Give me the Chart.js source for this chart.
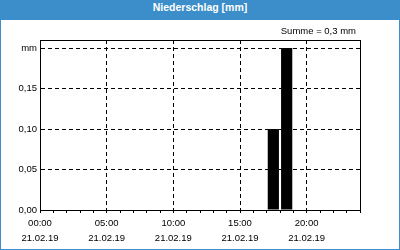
<!DOCTYPE html>
<html>
<head>
<meta charset="utf-8">
<script src="https://cdn.jsdelivr.net/npm/chart.js@4"></script>
<style>
  html, body { margin: 0; padding: 0; background: #fff; }
  .panel {
    position: relative;
    width: 400px;
    height: 250px;
    box-sizing: border-box;
    border: 1px solid #3b8ec9;
    background: #fff;
    overflow: hidden;
  }
  .panel-head {
    height: 19px;
    line-height: 19px;
    background: #3b8ec9;
    color: #fff;
    text-align: center;
    font: bold 10.5px "Liberation Sans", Arial, sans-serif;
  }
  canvas { display: block; }
</style>
</head>
<body>
<div class="panel">
  <div class="panel-head">Niederschlag [mm]</div>
  <canvas id="rainChart" width="398" height="229"></canvas>
</div>
<script>
// hour slots (centre of each hourly bar) and rainfall per hour in mm
const barHours = [17.5, 18.5];
const rainValues = [0.1, 0.2];

const timeLabels = { 0: '00:00', 5: '05:00', 10: '10:00', 15: '15:00', 20: '20:00' };
const dateLabel = '21.02.19';
const sumLabel = 'Summe = 0,3 mm';
const unitLabel = 'mm';

const fontFamily = '"Liberation Sans", Arial, sans-serif';

const framePlugin = {
  id: 'frame',
  afterDraw(chart) {
    const { ctx, chartArea } = chart;
    ctx.save();
    ctx.strokeStyle = '#000';
    ctx.lineWidth = 1;
    ctx.setLineDash([]);
    ctx.strokeRect(chartArea.left + 0.5, chartArea.top + 0.5,
      chartArea.right - chartArea.left, chartArea.bottom - chartArea.top);
    ctx.fillStyle = '#000';
    ctx.font = '9.5px ' + fontFamily;
    ctx.textAlign = 'right';
    ctx.textBaseline = 'middle';
    ctx.fillText(sumLabel, chartArea.right - 4, chartArea.top - 9);
    ctx.restore();
  }
};

const ctx = document.getElementById('rainChart').getContext('2d');

new Chart(ctx, {
  type: 'bar',
  data: {
    datasets: [{
      data: barHours.map((h, i) => ({ x: h, y: rainValues[i] })),
      backgroundColor: '#000',
      borderWidth: 0,
      barPercentage: 0.84,
      categoryPercentage: 1
    }]
  },
  options: {
    responsive: false,
    animation: false,
    layout: { padding: { top: 20, right: 39, left: 0, bottom: 0 } },
    plugins: {
      legend: { display: false },
      tooltip: { enabled: false }
    },
    scales: {
      x: {
        type: 'linear',
        min: 0,
        max: 24,
        offset: false,
        afterFit(scale) { scale.height = 39; },
        grid: {
          offset: false,
          color: c => (c.tick && c.tick.value % 5 === 0 && c.tick.value > 0 && c.tick.value < 24) ? '#000' : 'rgba(0,0,0,0)',
          tickColor: '#000',
          tickLength: 3,
          tickBorderDash: []
        },
        border: { display: true, color: '#000', dash: [4, 3] },
        ticks: {
          stepSize: 1,
          autoSkip: false,
          maxRotation: 0,
          padding: 3,
          color: '#000',
          font: { family: fontFamily, size: 9.5, lineHeight: 1.6 },
          callback: value => timeLabels[value] ? [timeLabels[value], dateLabel] : ''
        }
      },
      y: {
        min: 0,
        max: 0.21,
        afterFit(scale) { scale.width = 39; },
        grid: {
          color: c => (c.tick && c.tick.value > 0.001) ? '#000' : 'rgba(0,0,0,0)',
          drawTicks: false
        },
        border: { display: true, color: '#000', dash: [4, 3] },
        ticks: {
          stepSize: 0.05,
          includeBounds: false,
          padding: 3,
          color: '#000',
          font: { family: fontFamily, size: 9.5 },
          callback: value => Math.abs(value - 0.2) < 0.001 ? unitLabel : value.toFixed(2).replace('.', ',')
        }
      }
    }
  },
  plugins: [framePlugin]
});
</script>
</body>
</html>
